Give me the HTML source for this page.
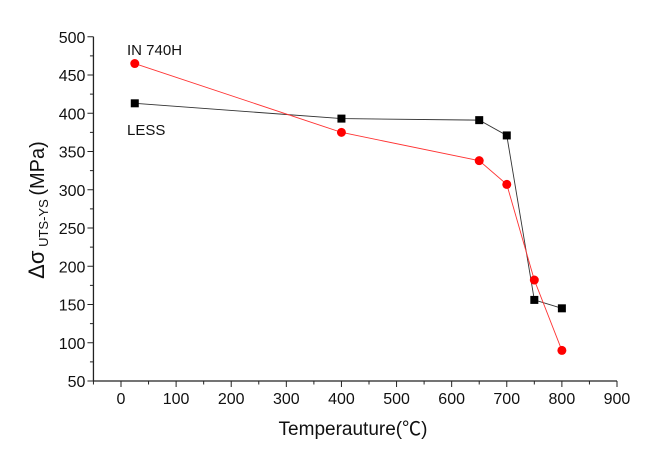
<!DOCTYPE html>
<html><head><meta charset="utf-8"><style>
body{margin:0;background:#fff}
svg text{font-family:"Liberation Sans","Noto Sans CJK KR",sans-serif;fill:#111}
</style></head><body>
<svg id="chart" width="653" height="456" xmlns="http://www.w3.org/2000/svg"></svg>
<script>
const temps=[25,400,650,700,750,800];
const lessVals=[413,393,391,371,156,145];
const in740Vals=[465,375,338,307,182,90];
const xTicks=[0,100,200,300,400,500,600,700,800,900];
const yTicks=[50,100,150,200,250,300,350,400,450,500];

const NS="http://www.w3.org/2000/svg";
const svg=document.getElementById('chart');
const X0=121,XS=0.5511,Y0=381,YS=0.765;
const xs=v=>X0+v*XS, ys=v=>Y0-(v-50)*YS;
const left=xs(-50), right=xs(900);
function mk(t,a,p){const e=document.createElementNS(NS,t);for(const k in a)e.setAttribute(k,a[k]);(p||svg).appendChild(e);return e;}

const ax=mk('g',{});


mk('line',{x1:left,y1:Y0,x2:right,y2:Y0,stroke:'#222','stroke-width':1.3},ax);
mk('line',{x1:left,y1:Y0,x2:left,y2:ys(500),stroke:'#222','stroke-width':1.3},ax);
for(let v=-50;v<=900;v+=50){
  const major=v%100===0;
  mk('line',{x1:xs(v),y1:Y0,x2:xs(v),y2:Y0+(major?6:3.5),stroke:'#222'},ax);
}
xTicks.forEach(v=>{const t=mk('text',{x:xs(v),y:Y0+23,'text-anchor':'middle','font-size':16},ax);t.textContent=v;
  
  });
for(let v=50;v<=500;v+=25){
  const major=v%50===0;
  mk('line',{x1:left,y1:ys(v),x2:left-(major?6:3.5),y2:ys(v),stroke:'#222'},ax);
}
yTicks.forEach(v=>{const t=mk('text',{x:left-8,y:ys(v)+6,'text-anchor':'end','font-size':16},ax);t.textContent=v;
  
  });

const xt=mk('text',{x:353,y:435,'text-anchor':'middle','font-size':19});
xt.textContent='Temperauture(℃)';



const yt=mk('text',{transform:'translate(44,210) rotate(-90)','text-anchor':'middle','font-size':20});


yt.innerHTML='<tspan font-size="22">Δσ</tspan><tspan font-size="13" dy="4"> UTS-YS </tspan><tspan dy="-4">(MPa)</tspan>';

function series(vals,color,name,marker){
  const g=mk('g',{});
  
  
  mk('polyline',{points:temps.map((t,i)=>xs(t)+','+ys(vals[i])).join(' '),fill:'none',stroke:color,'stroke-width':0.9},g);
  temps.forEach((t,i)=>{
    let m;
    if(marker==='sq') m=mk('rect',{x:xs(t)-4,y:ys(vals[i])-4,width:8,height:8,fill:'#000'},g);
    else m=mk('circle',{cx:xs(t),cy:ys(vals[i]),r:4.5,fill:'#f00'},g);
    
    
  });
}
series(lessVals,'#333','less-series','sq');
series(in740Vals,'#f33','in740h-series','ci');

const l1=mk('text',{x:127,y:55,'font-size':15});l1.textContent='IN 740H';


const l2=mk('text',{x:127,y:135,'font-size':15});l2.textContent='LESS';


</script>
</body></html>
